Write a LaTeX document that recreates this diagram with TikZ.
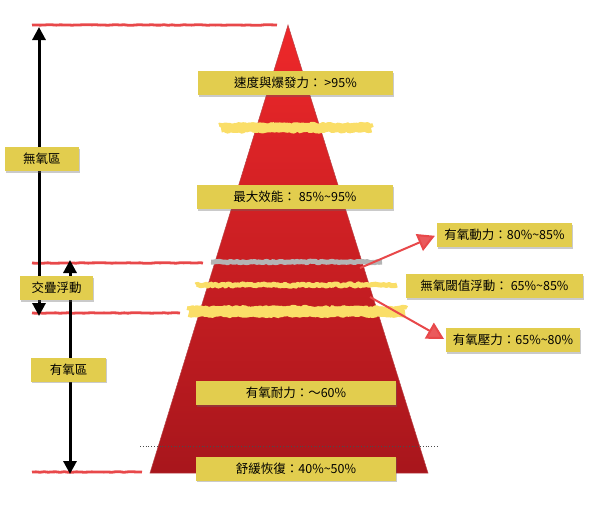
\documentclass[tikz,border=0pt]{standalone}
\usepackage{fontspec}
\newfontfamily\cjk{Noto Sans CJK TC}
\usetikzlibrary{shapes, arrows.meta, positioning, shadows, decorations.pathmorphing}
\definecolor{amarillo}{RGB}{226,205,78}
\definecolor{tizaamarilla}{RGB}{250,222,104}
\definecolor{rojolinea}{RGB}{232,72,74}
\definecolor{rojoalto}{RGB}{238,40,42}
\definecolor{rojobajo}{RGB}{168,22,28}
\definecolor{grislinea}{RGB}{180,180,180}
\tikzstyle{rotulo} = [fill=amarillo, text=black, font=\cjk\fontsize{12.5}{14}\selectfont, minimum height=24pt, inner sep=0pt, drop shadow={shadow xshift=1pt, shadow yshift=-1.5pt, opacity=0.35, fill=black!60}]
\tikzstyle{raya} = [draw=rojolinea, line width=2.8pt, line join=round, decorate, decoration={random steps, segment length=4pt, amplitude=0.3pt}]
\tikzstyle{tiza} = [draw=tizaamarilla, line join=round, decorate, decoration={random steps, segment length=2pt, amplitude=1.2pt}]
\tikzstyle{flecha} = [black, line width=3pt, {Triangle[width=13pt,length=13pt]}-{Triangle[width=13pt,length=13pt]}]
\tikzstyle{flecharoja} = [draw=rojolinea, line width=2pt, -{Triangle[width=18pt,length=17pt,fill=rojolinea!90]}, shorten >=2pt]

\begin{document}
\begin{tikzpicture}[x=1pt, y=-1pt]
	\pgfmathsetseed{7}
	\useasboundingbox (0,0) rectangle (600,504);
	\shade[top color=rojoalto, bottom color=rojobajo, draw=rojobajo!80, line width=0.5pt] (288,25) -- (428,473) -- (150,473) -- cycle;
	\draw[raya] (32,25) -- (277,25);
	\draw[raya] (32,263) -- (203,263);
	\draw[raya] (32,313) -- (180,313);
	\draw[raya] (32,472) -- (142,472);
	\draw[tiza, line width=9pt] (221,128) -- (371,128);
	\draw[tiza, line width=4pt] (219,125) -- (373,125);
	\draw[draw=grislinea, line width=5pt, line join=round, decorate, decoration={random steps, segment length=2pt, amplitude=0.8pt}] (211,262) -- (382,262);
	\draw[tiza, line width=5pt] (196,285) -- (397,285);
	\draw[tiza, line width=10pt] (189,312) -- (405,312);
	\draw[tiza, line width=4pt] (187,308) -- (407,308);
	\draw[dotted, black!70, line width=0.8pt] (140,446) -- (437,446);
	\coordinate (anaerA) at (39,27);
	\coordinate (anaerB) at (39,316);
	\coordinate (aerA) at (70,260);
	\coordinate (aerB) at (70,474);
	\draw[flecha] (anaerA) -- (anaerB);
	\draw[flecha] (aerA) -- (aerB);
	\node[rotulo, minimum width=74pt] (anaerobica) at (42,159) {無氧區};
	\node[rotulo, minimum width=73pt] (solape) at (56.5,288) {交疊浮動};
	\node[rotulo, minimum width=75pt] (aerobica) at (68.5,369.5) {有氧區};
	\node[rotulo, minimum width=195pt] (velocidad) at (295.5,83) {速度與爆發力： >95\%};
	\node[rotulo, minimum width=196pt] (maximo) at (295,197) {最大效能： 85\%\textasciitilde 95\%};
	\node[rotulo, minimum width=135pt] (dinamica) at (504.5,235) {有氧動力：80\%\textasciitilde 85\%};
	\node[rotulo, minimum width=177pt] (umbral) at (494.5,286) {無氧閾值浮動： 65\%\textasciitilde 85\%};
	\node[rotulo, minimum width=134pt] (presion) at (513,340) {有氧壓力：65\%\textasciitilde 80\%};
	\node[rotulo, minimum width=200pt] (resistencia) at (296,393) {有氧耐力：～60\%};
	\node[rotulo, minimum width=200pt] (recuperacion) at (296,468.5) {舒緩恢復：40\%\textasciitilde 50\%};
	\coordinate (salidaA) at (360,268);
	\coordinate (salidaB) at (370,297);
	\draw[flecharoja] (salidaA) -- (dinamica.west);
	\draw[flecharoja] (salidaB) -- (presion.west);
\end{tikzpicture}
\end{document}
